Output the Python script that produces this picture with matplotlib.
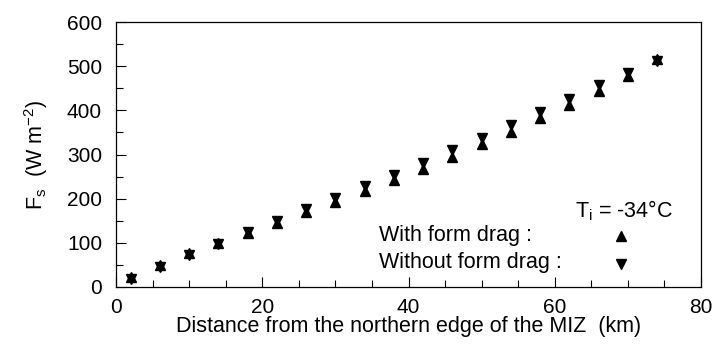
import matplotlib
matplotlib.use("Agg")
import matplotlib.pyplot as plt
from matplotlib.ticker import MultipleLocator

plt.rcParams['font.family'] = ['Liberation Sans', 'DejaVu Sans']
plt.rcParams['mathtext.fontset'] = 'custom'
plt.rcParams['mathtext.rm'] = 'Liberation Sans'
plt.rcParams['mathtext.it'] = 'Liberation Sans'
plt.rcParams['mathtext.default'] = 'regular'

distance_km = [2, 6, 10, 14, 18, 22, 26, 30, 34, 38, 42, 46, 50, 54, 58, 62, 66, 70, 74]
with_form_drag = [23.4, 49.8, 76.3, 100.4, 121.5, 145.7, 169.8, 193.3, 217.5, 242.3,
                  267.9, 295.1, 323.1, 350.9, 381.9, 412.1, 443.8, 477.8, 516.3]
without_form_drag = [18.9, 46.0, 71.8, 97.4, 124.5, 150.2, 175.8, 200.8, 228.5, 254.3,
                     281.5, 310.1, 338.1, 366.9, 396.9, 425.7, 457.4, 485.3, 512.3]

fig = plt.figure(figsize=(7.14, 3.45), dpi=100)
ax = fig.add_axes([116/714, 1-287/345, (701-116)/714, (287-22)/345])

ms = 7
ax.plot(distance_km, with_form_drag, linestyle='none', marker='^', color='black', ms=ms)
ax.plot(distance_km, without_form_drag, linestyle='none', marker='v', color='black', ms=ms)

fs = 15.5
ax.set_xlim(0, 80)
ax.set_ylim(0, 600)
ax.xaxis.set_major_locator(MultipleLocator(20))
ax.xaxis.set_minor_locator(MultipleLocator(5))
ax.yaxis.set_major_locator(MultipleLocator(100))
ax.yaxis.set_minor_locator(MultipleLocator(50))
ax.tick_params(which='both', direction='in', top=False, right=False, labelsize=15)
ax.tick_params(which='major', length=7, width=0.8)
ax.tick_params(which='minor', length=5, width=0.8)
ax.tick_params(axis='y', which='major', pad=10)
ax.tick_params(axis='x', which='major', pad=8)
for s in ax.spines.values():
    s.set_linewidth(0.9)

ax.set_xlabel('Distance from the northern edge of the MIZ  (km)', fontsize=fs, labelpad=-1)
ax.set_ylabel(r'F$_s$  (W m$^{-2}$)', fontsize=fs, labelpad=12)

ax.text(76.2, 172, r'T$_i$ = -34°C', fontsize=fs, ha='right', va='center')
ax.text(36.0, 116, 'With form drag :', fontsize=fs, ha='left', va='center')
ax.text(36.0, 55, 'Without form drag :', fontsize=fs, ha='left', va='center')
ax.plot([69], [116], linestyle='none', marker='^', color='black', ms=ms)
ax.plot([69], [53], linestyle='none', marker='v', color='black', ms=ms)

fig.savefig('out.png', dpi=100)
